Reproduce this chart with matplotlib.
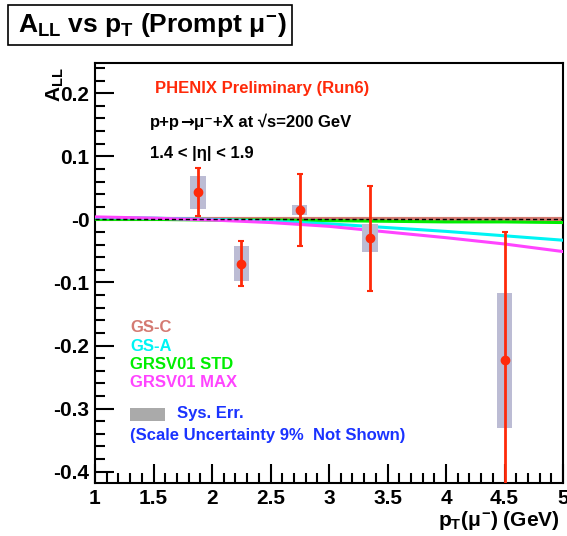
import matplotlib
matplotlib.use("Agg")
import matplotlib.pyplot as plt
from matplotlib.patches import Rectangle
from matplotlib.ticker import MultipleLocator, FixedLocator
import numpy as np

plt.rcParams['font.family'] = ['Liberation Sans', 'DejaVu Sans']
plt.rcParams['font.weight'] = 'bold'
plt.rcParams['mathtext.fontset'] = 'custom'
plt.rcParams['mathtext.rm'] = 'Liberation Sans:bold'
plt.rcParams['mathtext.bf'] = 'Liberation Sans:bold'
plt.rcParams['mathtext.it'] = 'Liberation Sans:bold'
plt.rcParams['mathtext.sf'] = 'Liberation Sans:bold'

# Measured asymmetries
pt = [1.88, 2.25, 2.75, 3.35, 4.50]
all_vals = [0.043, -0.070, 0.015, -0.030, -0.223]
stat_err = [0.038, 0.036, 0.057, 0.083, 0.203]
sys_err = [0.026, 0.028, 0.0075, 0.022, 0.107]

# Theory curves
curve_pt = [1.0, 1.5, 2.0, 2.5, 3.0, 3.5, 4.0, 4.5, 5.0]
gs_c = [0.001, 0.001, 0.001, 0.001, 0.001, 0.001, 0.001, 0.001, 0.001]
gs_a = [0.003, 0.002, 0.000, -0.003, -0.007, -0.013, -0.019, -0.026, -0.033]
grsv_std = [0.000, 0.000, -0.001, -0.001, -0.002, -0.003, -0.004, -0.004, -0.005]
grsv_max = [0.004, 0.002, -0.001, -0.005, -0.011, -0.020, -0.029, -0.039, -0.051]

y_ticks = [-0.4, -0.3, -0.2, -0.1, 0.0, 0.1, 0.2]
y_tick_labels = ["-0.4", "-0.3", "-0.2", "-0.1", "-0", "0.1", "0.2"]
x_ticks = [1, 1.5, 2, 2.5, 3, 3.5, 4, 4.5, 5]
x_tick_labels = ["1", "1.5", "2", "2.5", "3", "3.5", "4", "4.5", "5"]

W, H = 567, 536
fig = plt.figure(figsize=(W / 100, H / 100), dpi=100)
ax = fig.add_axes([95 / W, 1 - 483 / H, (563 - 95) / W, (483 - 63) / H])
ax.set_xlim(1, 5)
ax.set_ylim(-0.418, 0.248)

red = '#ff2a0a'
box_w = 0.13

# Theory curves
ax.plot(curve_pt, gs_c, color='#d47a72', lw=3.0, zorder=2)
ax.plot(curve_pt, grsv_std, color='#00ee00', lw=2.2, zorder=3)
ax.plot(curve_pt, gs_a, color='#00f4f4', lw=2.2, zorder=3)
ax.plot(curve_pt, grsv_max, color='#ff44ff', lw=2.2, zorder=3)
ax.axhline(0, color='black', lw=1.0, ls=(0, (3, 2)), zorder=4)

# Systematic error boxes
for x, y, s in zip(pt, all_vals, sys_err):
    ax.add_patch(Rectangle((x - box_w / 2, y - s), box_w, 2 * s,
                           facecolor='#bcbcd4', edgecolor='none', zorder=5))

# Points with statistical errors
ax.errorbar(pt, all_vals, yerr=stat_err, fmt='o', color=red, ms=6,
            elinewidth=2, capsize=2.5, capthick=1.5, zorder=6)

# Axis styling
for side in ['top', 'right', 'left', 'bottom']:
    ax.spines[side].set_linewidth(1.5)
ax.xaxis.set_major_locator(FixedLocator(x_ticks))
ax.set_xticklabels(x_tick_labels)
ax.xaxis.set_minor_locator(MultipleLocator(0.1))
ax.yaxis.set_major_locator(FixedLocator(y_ticks))
ax.set_yticklabels(y_tick_labels)
ax.yaxis.set_minor_locator(MultipleLocator(0.02))
ax.tick_params(which='both', direction='in', top=False, right=False,
               labelsize=15, width=1.5)
ax.tick_params(which='major', length=14, pad=4)
ax.tick_params(which='minor', length=7)
for lab in ax.get_xticklabels() + ax.get_yticklabels():
    lab.set_fontweight('bold')

# In-plot annotations
def ftext(x, y, s, **kw):
    return fig.text(x / W, 1 - y / H, s, va='baseline', ha='left',
                    fontweight='bold', **kw)

renderer = fig.canvas.get_renderer()

def chain_text(x, y, pieces, **kw):
    # draw consecutive text pieces, each with its own font family
    for s, fam in pieces:
        t = ftext(x, y, s, family=fam, **kw)
        x += t.get_window_extent(renderer).width

fs = 12
ftext(155, 93, "PHENIX Preliminary (Run6)", color=red, fontsize=fs)
chain_text(150, 127, [("p+p", ['Liberation Sans']),
                      ("→", ['DejaVu Sans']),
                      ("μ⁻+X at √s=200 GeV", ['Liberation Sans', 'DejaVu Sans'])],
           color='black', fontsize=fs)
ftext(150, 158, "1.4 < |η| < 1.9", color='black', fontsize=fs)

ftext(130, 332, "GS-C", color='#d47a72', fontsize=fs)
ftext(130, 351, "GS-A", color='#00f4f4', fontsize=fs)
ftext(130, 369, "GRSV01 STD", color='#00ee00', fontsize=fs)
ftext(130, 387, "GRSV01 MAX", color='#ff44ff', fontsize=fs)
fig.patches.append(Rectangle((130 / W, 1 - 421 / H), 35 / W, 13 / H,
                             transform=fig.transFigure, facecolor='#aaaaaa',
                             edgecolor='none'))
ftext(177, 418, "Sys. Err.", color='#1a33ff', fontsize=fs)
ftext(130, 440, "(Scale Uncertainty 9%  Not Shown)", color='#1a33ff', fontsize=fs)

# Axis titles
fig.text(560 / W, 1 - 521 / H, r"p$_{T}$($\mu^{-}$) (GeV)", ha='right', va='center',
         fontsize=15, fontweight='bold')
fig.text(55 / W, 1 - 85 / H, "A$_{LL}$", ha='center', va='center', rotation=90,
         fontsize=15, fontweight='bold')

# Title box
fig.patches.append(Rectangle((8 / W, 1 - 45 / H), 284 / W, 40 / H,
                             transform=fig.transFigure, facecolor='white',
                             edgecolor='black', lw=1.2))
fig.text(18 / W, 1 - 25 / H, r"A$_{LL}$ vs p$_{T}$ (Prompt $\mu^{-}$)", ha='left',
         va='center', fontsize=19, fontweight='bold')

fig.savefig("out.png", dpi=100)
